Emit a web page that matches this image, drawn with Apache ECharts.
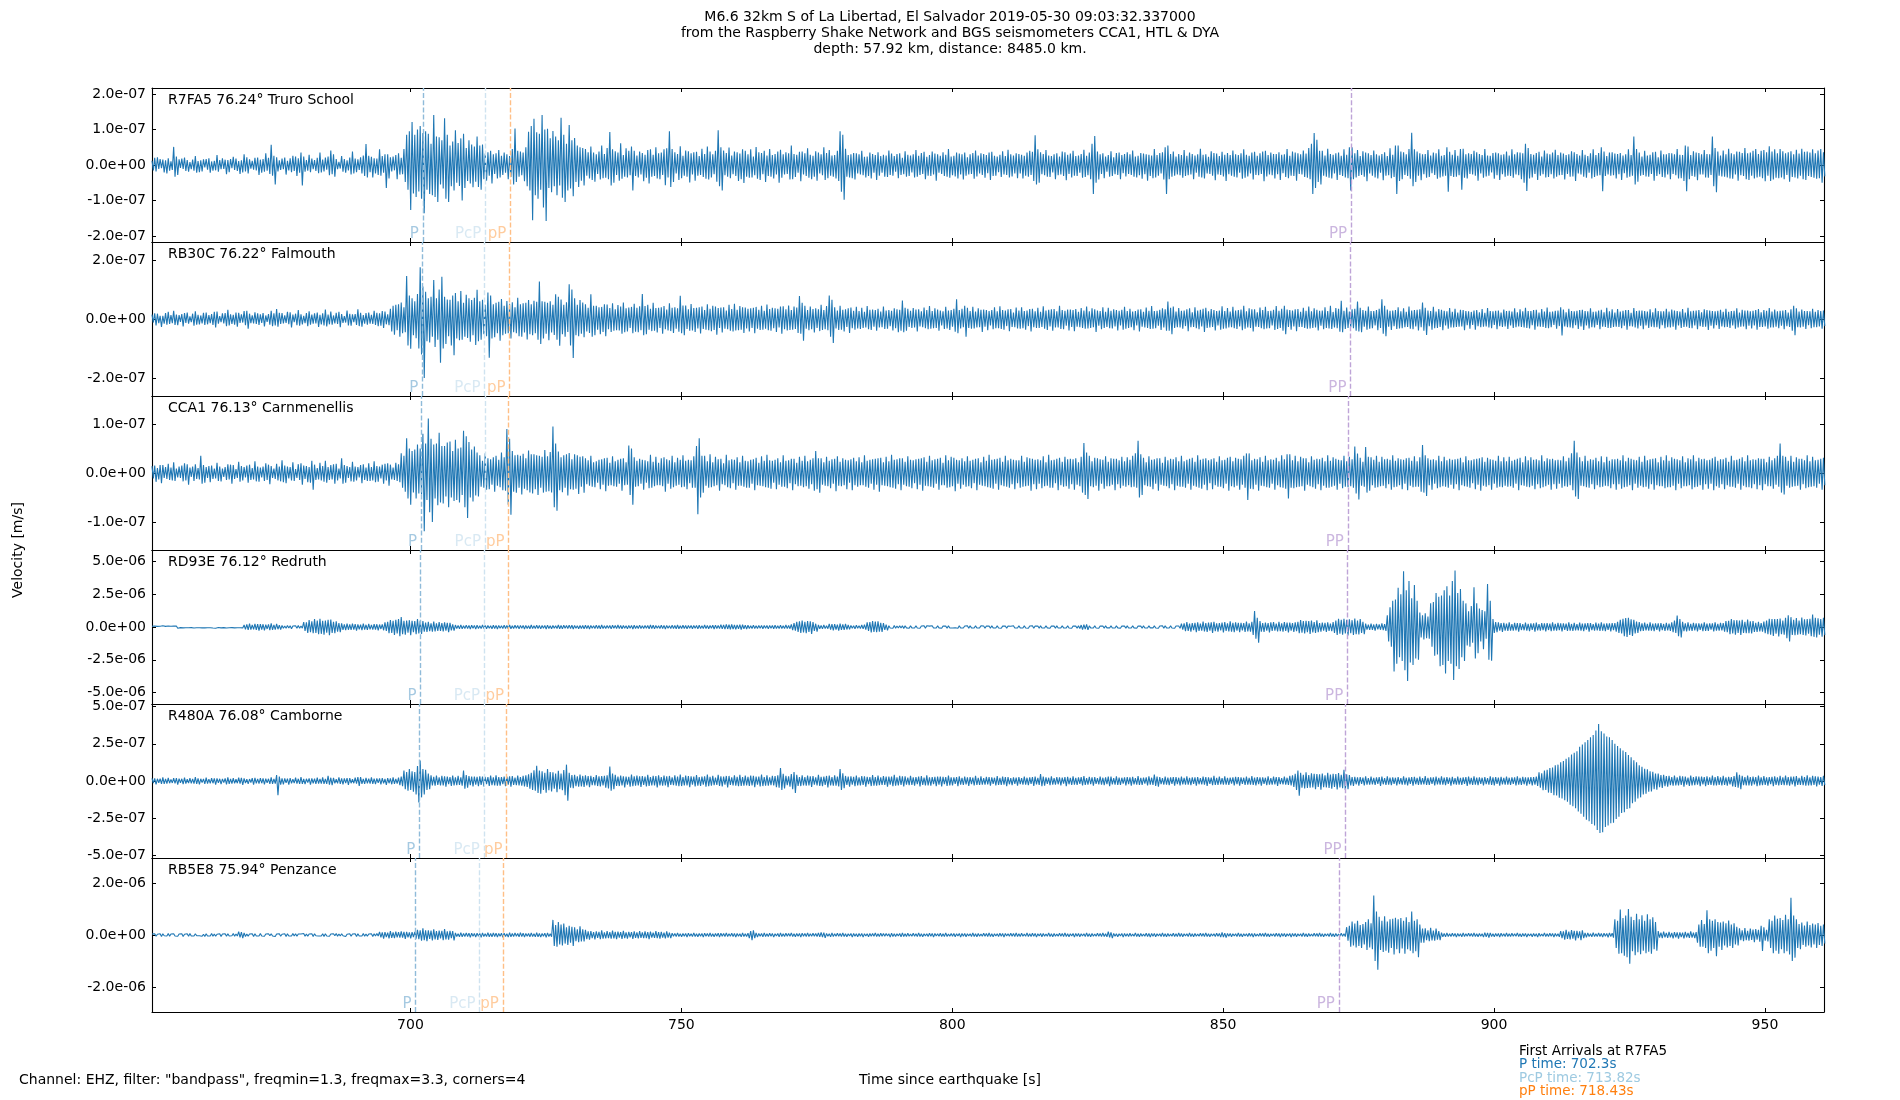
<!DOCTYPE html>
<html>
<head>
<meta charset="utf-8">
<title>M6.6 La Libertad - Raspberry Shake</title>
<script src="https://cdn.jsdelivr.net/npm/echarts@6/dist/echarts.min.js"></script>
<style>
html, body { margin: 0; padding: 0; background: #fff; }
#chart { width: 1900px; height: 1100px; }
</style>
</head>
<body>
<div id="chart"></div>
<script type="text/javascript">
// sampling of the traces (s since origin) and the shared time axis
var T0 = 652.3, DT = 0.25;
var X_MIN = 652.3, X_MAX = 960.9;
var xTicks = [700, 750, 800, 850, 900, 950];

var stations = [
    'R7FA5 76.24\u00b0 Truro School',
    'RB30C 76.22\u00b0 Falmouth',
    'CCA1 76.13\u00b0 Carnmenellis',
    'RD93E 76.12\u00b0 Redruth',
    'R480A 76.08\u00b0 Camborne',
    'RB5E8 75.94\u00b0 Penzance'
];
// the trace values below are stored in these units (m/s)
var units = [1e-9, 1e-9, 1e-9, 1e-8, 1e-9, 1e-8];
var yLimits = [2.17e-7, 2.61e-7, 1.571e-7, 5.87e-6, 5.18e-7, 2.96e-6];
var yTicks = [
    [-2e-7, -1e-7, 0, 1e-7, 2e-7],
    [-2e-7, 0, 2e-7],
    [-1e-7, 0, 1e-7],
    [-5e-6, -2.5e-6, 0, 2.5e-6, 5e-6],
    [-5e-7, -2.5e-7, 0, 2.5e-7, 5e-7],
    [-2e-6, 0, 2e-6]
];

var phaseNames = ['P', 'PcP', 'pP', 'PP'];
var phaseColors = ['#8fbbd9', '#cfe3f0', '#ffbf86', '#bea4d7'];
var arrivals = [
    [702.3, 713.82, 718.43, 873.6],
    [702.2, 713.7, 718.3, 873.5],
    [701.95, 713.75, 718.1, 873.0],
    [701.85, 713.6, 718.0, 872.9],
    [701.65, 713.55, 717.75, 872.6],
    [700.95, 712.75, 717.05, 871.35]
];

// one row = 10 s of trace
var wave1 = [
12,-15,20,-18,22,-11,17,-9,15,-21,13,-24,19,-16,10,-14,51,-33,24,-28,16,-8,18,-11,21,-17,14,-19,8,-12,15,-16,25,-22,11,-20,13,-18,16,-7,
17,-13,19,-22,10,-16,12,-15,28,-19,14,-12,19,-11,15,-26,14,-20,17,-9,23,-14,18,-17,11,-25,13,-21,30,-18,22,-24,16,-10,12,-13,20,-15,21,-28,
15,-22,17,-19,33,-16,20,-25,57,-30,26,-55,22,-18,13,-14,18,-12,21,-27,12,-15,19,-20,26,-17,24,-31,19,-22,35,-58,24,-19,14,-16,29,-20,18,-12,
14,-17,20,-23,35,-21,15,-18,21,-13,24,-29,41,-26,30,-33,17,-12,9,-10,25,-19,17,-22,13,-15,21,-27,38,-24,18,-20,16,-14,22,-24,27,-31,59,-35,
26,-20,23,-35,19,-24,18,-28,44,-30,25,-22,30,-65,30,-38,22,-18,24,-15,28,-40,33,-27,20,-26,45,-48,85,-70,95,-127,121,-80,85,-90,100,-75,110,-95,
90,-136,95,-70,88,-82,60,-85,141,-90,80,-104,78,-55,70,-66,132,-95,85,-104,55,-60,66,-72,98,-50,62,-59,75,-100,88,-65,48,-45,70,-52,58,-63,52,-47,
80,-62,55,-70,58,-40,32,-44,36,-30,40,-52,30,-25,33,-38,42,-35,26,-28,35,-22,30,-40,25,-34,45,-55,103,-48,40,-33,38,-29,35,-46,50,-60,94,-72,
110,-156,130,-85,92,-95,88,-70,141,-120,100,-158,102,-65,75,-77,96,-60,80,-85,70,-58,133,-92,85,-104,60,-72,113,-66,70,-88,76,-48,55,-62,50,-44,48,-58,
45,-30,36,-38,52,-42,35,-47,30,-25,38,-41,55,-37,31,-36,48,-40,93,-58,44,-50,39,-28,35,-44,61,-39,28,-33,47,-35,40,-29,52,-72,40,-31,27,-35,
38,-27,34,-46,29,-36,42,-52,44,-33,29,-31,50,-38,33,-40,35,-28,44,-57,47,-35,95,-62,45,-48,36,-24,31,-42,53,-37,26,-30,41,-33,39,-49,33,-27,
36,-44,37,-30,25,-28,46,-34,31,-39,52,-41,38,-35,30,-26,40,-47,98,-60,50,-72,41,-29,34,-33,49,-37,27,-26,38,-31,36,-45,32,-40,44,-51,40,-33,
30,-36,44,-35,24,-29,51,-39,36,-42,34,-26,40,-48,27,-31,45,-33,28,-38,31,-27,38,-50,43,-36,30,-27,36,-25,33,-41,55,-40,31,-34,29,-22,37,-46,
38,-27,33,-31,47,-36,29,-40,26,-33,39,-44,35,-24,30,-29,50,-42,34,-37,42,-30,27,-33,28,-38,40,-45,95,-75,85,-98,46,-33,28,-35,30,-37,34,-41,
33,-24,30,-27,40,-29,23,-35,24,-31,35,-38,31,-22,28,-42,36,-30,25,-22,29,-33,27,-34,41,-28,32,-30,25,-19,31,-37,33,-28,20,-26,39,-33,29,-31,
27,-21,30,-35,42,-33,26,-28,34,-25,37,-40,23,-30,28,-31,38,-27,32,-44,30,-22,26,-25,36,-31,29,-33,45,-36,24,-29,26,-32,35,-38,32,-27,30,-41,
35,-30,22,-27,30,-25,34,-39,41,-32,27,-24,33,-28,31,-36,28,-23,35,-42,37,-31,26,-30,24,-20,29,-34,39,-27,25,-28,43,-35,30,-32,27,-24,33,-37,
31,-24,29,-38,26,-30,35,-33,40,-28,37,-45,84,-55,44,-50,36,-26,31,-29,42,-33,27,-34,25,-21,30,-40,33,-29,24,-27,38,-31,36,-43,29,-25,32,-35,
40,-30,25,-31,27,-22,31,-36,43,-34,26,-29,35,-40,60,-82,82,-50,38,-41,30,-25,33,-37,24,-19,28,-33,39,-31,22,-26,34,-28,35,-40,28,-23,31,-32,
36,-25,30,-28,41,-33,24,-35,26,-29,34,-39,32,-26,30,-44,29,-31,27,-37,45,-35,28,-30,34,-24,36,-41,50,-82,55,-40,31,-33,38,-30,24,-27,31,-29,
28,-36,42,-31,26,-29,35,-27,31,-40,27,-22,30,-33,46,-35,29,-38,30,-24,23,-25,39,-30,34,-43,32,-27,25,-28,37,-32,29,-45,34,-26,28,-30,41,-33,
30,-35,28,-22,33,-39,44,-36,29,-32,26,-24,35,-41,37,-28,26,-29,33,-25,38,-46,40,-32,28,-27,35,-29,31,-38,31,-26,36,-42,29,-23,30,-34,45,-37,
26,-30,38,-31,35,-44,33,-25,30,-27,41,-34,32,-36,48,-40,60,-82,90,-65,71,-48,40,-55,40,-30,27,-33,46,-36,31,-38,29,-24,33,-42,35,-28,26,-31,
44,-35,29,-37,50,-72,50,-40,33,-35,42,-31,25,-28,39,-33,35,-46,33,-24,28,-30,41,-35,30,-38,27,-22,31,-43,36,-30,25,-29,47,-37,29,-34,55,-82,
55,-45,38,-40,36,-28,30,-31,45,-39,91,-60,44,-48,38,-30,33,-43,30,-26,31,-36,42,-34,27,-23,35,-28,33,-39,44,-35,26,-32,28,-30,50,-75,37,-31,
29,-34,42,-33,26,-29,45,-70,46,-36,30,-38,33,-25,31,-27,40,-30,36,-44,31,-24,28,-36,45,-32,27,-30,26,-21,34,-39,35,-29,33,-42,29,-26,30,-33,
38,-30,27,-31,44,-36,30,-27,36,-29,35,-40,33,-50,60,-73,48,-38,31,-35,29,-25,34,-42,37,-30,24,-26,41,-35,32,-34,30,-26,35,-38,43,-33,28,-29,
35,-28,32,-41,28,-25,30,-33,39,-32,36,-45,31,-24,27,-27,42,-33,29,-36,25,-22,33,-38,44,-34,28,-30,34,-29,50,-74,38,-31,25,-27,35,-30,36,-29,
32,-38,31,-26,34,-42,27,-23,30,-36,44,-33,28,-30,80,-55,45,-47,35,-30,24,-28,40,-32,27,-33,29,-25,36,-44,37,-31,22,-26,41,-34,30,-35,30,-27,
34,-40,33,-25,30,-29,45,-38,29,-37,28,-45,55,-74,52,-40,28,-31,39,-33,35,-43,34,-27,30,-27,42,-35,31,-36,30,-28,80,-60,48,-77,38,-30,27,-32,
41,-33,30,-35,46,-38,33,-39,30,-27,38,-44,37,-29,34,-31,48,-40,33,-42,35,-30,40,-38,45,-35,31,-33,40,-37,42,-46,36,-30,53,-45,38,-41,44,-36,
33,-37,45,-35,39,-40,33,-28,36,-47,39,-34,30,-35,43,-38,32,-30,46,-40,37,-42,38,-31,35,-34,44,-36,33,-39,41,-37,45,-50,36,-32
];

var wave2 = [
15,-12,19,-22,18,-14,11,-27,11,-16,20,-19,24,-17,13,-14,28,-20,15,-21,13,-10,17,-25,20,-13,22,-16,9,-11,18,-23,26,-19,14,-18,12,-15,21,-20,
22,-18,13,-14,17,-20,24,-29,25,-16,10,-11,19,-15,20,-24,31,-22,16,-17,14,-19,22,-26,21,-13,16,-12,27,-21,28,-33,18,-14,12,-15,23,-17,19,-20,
16,-13,20,-25,12,-10,17,-19,28,-24,19,-22,34,-26,21,-17,20,-15,12,-13,24,-18,23,-29,15,-11,18,-21,30,-23,16,-18,11,-14,20,-24,26,-19,15,-16,
19,-15,22,-27,14,-18,19,-22,32,-25,15,-18,25,-19,12,-15,21,-17,24,-28,17,-13,10,-12,29,-22,18,-23,16,-11,17,-20,33,-24,21,-26,13,-16,20,-19,
22,-16,14,-17,28,-20,21,-24,19,-23,27,-30,25,-18,16,-21,35,-42,45,-53,48,-38,50,-60,56,-48,40,-45,146,-90,80,-101,70,-55,60,-65,85,-100,175,-120,
110,-200,92,-75,70,-80,75,-60,132,-95,70,-70,100,-148,143,-100,75,-85,66,-58,65,-90,80,-123,88,-66,60,-72,95,-70,55,-60,82,-64,70,-77,64,-55,72,-88,
99,-75,60,-70,65,-52,48,-58,90,-131,80,-66,50,-62,55,-48,58,-74,68,-55,45,-50,61,-48,52,-66,57,-45,40,-48,72,-58,50,-60,53,-46,55,-69,64,-52,
50,-55,62,-48,58,-70,127,-85,60,-66,58,-50,55,-72,60,-46,48,-54,84,-70,75,-91,66,-52,48,-60,57,-44,118,-90,100,-132,70,-55,48,-58,64,-50,56,-62,
50,-42,38,-47,84,-60,45,-55,45,-36,40,-52,41,-44,50,-58,49,-35,37,-44,53,-40,33,-38,47,-39,42,-50,56,-45,36,-42,39,-30,41,-48,52,-43,38,-45,
43,-38,85,-55,44,-52,48,-36,35,-41,55,-40,37,-46,38,-30,40,-50,44,-35,32,-39,53,-41,38,-47,40,-33,36,-43,79,-48,46,-55,46,-34,33,-40,51,-39,
37,-44,38,-32,40,-49,42,-34,30,-36,50,-38,35,-41,45,-37,42,-53,37,-30,39,-46,40,-33,29,-35,48,-40,34,-42,52,-39,31,-38,44,-36,40,-47,39,-32,
35,-42,36,-30,38,-48,41,-33,31,-37,45,-36,28,-33,49,-38,34,-40,38,-31,36,-44,35,-29,42,-50,43,-35,33,-39,46,-37,30,-36,42,-34,39,-47,78,-50,
55,-74,45,-33,30,-38,42,-35,34,-46,36,-30,33,-41,48,-37,30,-35,44,-38,80,-60,65,-81,40,-32,29,-37,45,-36,31,-42,33,-27,36,-47,39,-31,28,-36,
41,-32,27,-34,38,-30,24,-29,44,-35,31,-37,32,-26,30,-40,35,-29,25,-28,42,-34,29,-33,30,-24,28,-39,36,-31,33,-45,31,-40,63,-45,38,-40,35,-27,
28,-30,37,-29,32,-42,33,-25,26,-28,39,-31,30,-35,44,-33,27,-31,36,-30,32,-40,29,-22,26,-34,41,-32,29,-37,30,-26,35,-43,67,-48,30,-32,35,-28,
45,-60,38,-30,27,-33,41,-32,25,-29,36,-28,31,-44,32,-26,30,-38,27,-22,30,-35,40,-31,26,-31,43,-34,30,-36,29,-24,33,-41,34,-27,22,-28,39,-32,
29,-33,40,-31,27,-36,29,-24,34,-42,35,-28,26,-30,38,-30,24,-27,43,-33,29,-37,31,-25,33,-40,34,-29,26,-29,45,-34,30,-35,28,-23,32,-39,32,-27,
30,-41,34,-26,24,-28,37,-30,29,-33,42,-32,26,-30,36,-28,33,-44,29,-23,27,-35,40,-30,24,-27,38,-31,28,-32,33,-25,30,-39,28,-22,31,-36,41,-33,
27,-30,35,-28,25,-38,27,-22,32,-42,33,-26,24,-29,39,-30,28,-34,44,-33,27,-31,28,-23,31,-37,36,-29,33,-40,59,-40,38,-52,42,-30,25,-28,37,-29,
28,-33,29,-24,33,-41,36,-28,23,-27,40,-31,29,-35,31,-25,35,-44,38,-30,26,-29,34,-27,30,-39,27,-22,29,-36,43,-33,27,-32,37,-29,25,-28,41,-31,
29,-34,30,-25,32,-38,45,-33,26,-29,36,-30,33,-42,33,-26,23,-27,39,-31,30,-35,41,-32,27,-31,28,-22,31,-37,44,-34,28,-30,35,-40,45,-52,32,-27,
30,-36,29,-25,33,-41,34,-27,24,-27,38,-30,28,-33,42,-32,26,-30,36,-29,31,-39,28,-23,29,-35,40,-30,27,-32,45,-34,24,-29,37,-31,35,-43,62,-45,
28,-34,39,-30,25,-28,33,-31,35,-40,59,-42,38,-45,30,-26,28,-36,42,-33,27,-31,27,-22,30,-38,35,-30,67,-50,45,-58,32,-26,28,-37,29,-24,30,-34,
40,-32,26,-31,36,-28,24,-27,42,-33,29,-35,30,-25,31,-39,33,-28,56,-40,38,-54,29,-24,27,-36,41,-31,25,-30,34,-27,31,-38,28,-22,26,-33,37,-29,
24,-29,35,-27,22,-26,31,-25,30,-38,27,-21,26,-33,24,-20,29,-36,30,-24,23,-28,34,-26,21,-25,37,-29,27,-31,26,-20,28,-35,29,-24,22,-27,32,-25,
27,-34,28,-22,25,-30,36,-28,23,-25,33,-27,26,-29,38,-30,27,-32,27,-21,30,-36,31,-25,22,-26,34,-27,25,-30,39,-31,24,-28,25,-20,28,-33,29,-24,
40,-56,32,-25,23,-28,35,-29,27,-31,26,-21,28,-34,30,-25,31,-37,27,-22,26,-32,36,-28,24,-29,25,-20,29,-35,31,-26,23,-27,38,-30,26,-30,33,-27,
22,-26,34,-27,25,-31,28,-23,30,-36,30,-24,21,-25,37,-29,27,-32,29,-23,29,-35,27,-22,25,-30,33,-26,23,-28,36,-28,27,-33,26,-21,26,-31,35,-28,
25,-29,32,-26,29,-36,27,-22,25,-30,34,-27,22,-26,38,-30,26,-31,28,-22,29,-35,30,-24,23,-27,33,-26,30,-37,29,-23,27,-32,26,-21,28,-34,31,-25,
24,-28,35,-27,24,-30,27,-22,28,-33,36,-29,22,-26,31,-25,29,-35,29,-23,26,-32,28,-22,30,-36,34,-27,23,-27,30,-25,28,-33,37,-29,25,-29,32,-26,
26,-31,28,-23,29,-35,30,-24,22,-27,33,-40,45,-55,36,-28,25,-29,32,-26,27,-34,27,-21,26,-31,35,-28,24,-28,30,-25,27,-33,29,-24
];

var wave3 = [
14,-11,15,-18,10,-13,16,-21,16,-10,12,-12,19,-14,11,-15,22,-16,9,-9,13,-10,15,-17,20,-15,18,-24,11,-8,13,-16,18,-12,10,-13,35,-22,16,-20,
12,-10,14,-19,15,-12,9,-11,21,-16,13,-17,9,-8,12,-14,18,-13,17,-22,16,-12,8,-10,23,-18,14,-15,12,-9,15,-20,17,-14,10,-13,24,-17,13,-18,
11,-9,13,-16,20,-14,17,-23,14,-10,9,-12,19,-15,13,-17,26,-19,15,-21,13,-11,12,-15,22,-16,8,-10,18,-14,20,-24,15,-12,14,-19,12,-20,25,-34,
17,-14,10,-13,21,-15,14,-18,25,-20,12,-14,16,-13,18,-22,19,-15,9,-11,30,-22,16,-20,14,-10,12,-17,23,-18,13,-15,12,-9,16,-21,18,-14,11,-16,
20,-16,12,-15,24,-19,14,-18,13,-11,17,-22,19,-15,20,-26,17,-13,11,-14,21,-16,18,-19,40,-30,35,-38,71,-52,50,-65,45,-40,48,-52,58,-42,50,-44,
80,-119,60,-55,111,-80,70,-100,58,-52,60,-66,82,-60,55,-62,55,-48,62,-70,64,-50,45,-57,68,-55,50,-60,52,-45,86,-70,75,-92,63,-50,48,-58,54,-46,
42,-48,36,-28,25,-30,40,-34,30,-33,28,-24,32,-38,35,-26,27,-29,42,-35,32,-36,90,-65,70,-85,45,-38,36,-40,37,-30,35,-44,39,-32,30,-35,46,-40,
38,-42,38,-33,36,-45,35,-30,33,-40,47,-38,34,-37,43,-40,95,-70,60,-77,44,-35,32,-39,36,-30,38,-46,41,-33,28,-34,38,-32,36,-43,33,-28,34,-40,
30,-23,26,-26,35,-28,22,-29,24,-20,27,-33,28,-24,30,-37,31,-26,21,-25,34,-27,24,-28,27,-22,29,-36,30,-25,22,-24,56,-45,50,-65,32,-28,25,-27,
29,-22,27,-34,26,-20,24,-31,37,-30,23,-27,33,-25,21,-25,30,-27,32,-38,28,-22,26,-32,35,-29,22,-26,31,-24,27,-29,36,-28,25,-33,27,-21,26,-30,
34,-30,55,-84,71,-50,35,-40,35,-26,24,-30,38,-29,22,-27,33,-25,28,-36,29,-23,20,-25,37,-29,26,-31,28,-21,27,-34,32,-26,22,-26,35,-28,25,-30,
24,-30,27,-22,28,-35,31,-25,21,-26,34,-27,25,-29,37,-30,26,-32,25,-20,27,-33,30,-24,22,-28,36,-28,25,-31,26,-21,29,-35,29,-23,21,-27,33,-26,
25,-29,35,-27,24,-32,27,-23,30,-36,45,-33,30,-40,30,-24,22,-26,33,-27,25,-31,28,-22,29,-37,34,-26,23,-27,30,-25,27,-33,26,-20,28,-35,31,-25,
24,-28,32,-25,22,-25,36,-28,25,-30,27,-22,28,-34,29,-24,30,-38,31,-25,22,-26,33,-27,24,-29,37,-30,27,-32,28,-23,30,-35,30,-24,23,-27,34,-28,
27,-31,26,-21,28,-33,29,-24,30,-36,32,-26,23,-27,35,-28,26,-30,28,-22,29,-34,31,-25,21,-25,36,-30,26,-29,33,-27,31,-37,27,-22,26,-32,30,-24,
24,-28,34,-27,25,-31,27,-21,29,-35,30,-24,22,-26,33,-27,25,-29,37,-30,27,-32,28,-22,29,-34,31,-25,23,-27,35,-28,26,-30,29,-23,27,-33,26,-21,
26,-30,35,-28,23,-27,32,-26,30,-36,29,-23,27,-33,28,-22,26,-31,34,-27,22,-26,37,-30,26,-30,27,-21,29,-35,31,-25,23,-28,33,-27,28,-32,29,-23,
28,-34,30,-24,22,-27,33,-40,61,-45,42,-53,35,-27,24,-29,31,-26,30,-36,28,-22,27,-32,34,-27,23,-27,30,-24,29,-35,29,-23,26,-31,33,-26,24,-28,
32,-25,27,-29,35,-28,40,-30,66,-50,38,-45,31,-25,22,-27,34,-28,27,-33,28,-22,30,-36,30,-24,21,-26,33,-27,26,-31,29,-23,28,-35,32,-26,24,-28,
35,-28,24,-30,27,-22,29,-34,31,-26,23,-28,36,-30,27,-32,29,-24,30,-35,26,-21,28,-33,30,-25,23,-28,34,-28,26,-31,27,-22,31,-36,33,-27,24,-29,
31,-26,29,-34,28,-24,35,-30,40,-55,40,-32,26,-33,29,-24,28,-36,32,-26,23,-27,35,-29,26,-30,28,-22,27,-34,31,-25,24,-29,36,-30,28,-32,38,-52,
38,-30,26,-31,35,-29,24,-28,33,-27,30,-36,30,-24,22,-27,34,-29,27,-32,29,-23,28,-35,31,-26,24,-30,36,-30,25,-28,32,-26,29,-34,27,-22,26,-31,
35,-28,24,-29,33,-27,28,-30,54,-42,40,-54,31,-26,23,-28,53,-40,33,-36,32,-25,27,-30,35,-29,23,-27,33,-26,28,-31,29,-23,27,-34,36,-29,25,-28,
30,-25,28,-33,27,-22,30,-35,31,-26,25,-29,34,-28,24,-28,32,-38,57,-40,36,-47,30,-25,27,-34,28,-22,26,-31,35,-29,24,-27,33,-28,26,-30,29,-24,
27,-32,28,-23,29,-35,31,-25,22,-27,34,-28,26,-30,26,-21,28,-33,29,-24,30,-36,32,-26,23,-28,31,-25,28,-34,27,-22,25,-30,35,-28,24,-29,32,-26,
24,-28,33,-27,25,-30,27,-22,29,-35,31,-25,22,-26,34,-28,26,-29,32,-26,27,-33,28,-23,26,-31,36,-29,24,-27,30,-24,28,-34,29,-23,26,-32,27,-22,
26,-30,34,-27,24,-28,31,-25,40,-35,66,-48,42,-53,32,-26,24,-27,35,-29,25,-30,28,-23,27,-33,31,-25,24,-29,34,-28,22,-26,33,-27,25,-31,28,-23,
28,-34,29,-23,26,-32,36,-29,24,-28,31,-25,29,-35,27,-22,26,-30,33,-26,23,-29,35,-28,26,-32,28,-23,29,-34,30,-25,22,-27,33,-27,26,-31,36,-29,
25,-29,32,-26,29,-35,28,-22,26,-31,34,-27,22,-27,30,-25,28,-33,36,-29,24,-28,31,-25,28,-34,29,-23,26,-32,27,-22,30,-35,33,-27,25,-30,28,-23,
28,-33,31,-25,23,-28,35,-28,26,-30,27,-22,29,-34,32,-26,24,-29,36,-29,26,-31,28,-23,27,-33,30,-25,29,-35,29,-23,22,-27,33,-27,26,-32,30,-24,
35,-28,60,-40,35,-44,33,-26,25,-30,35,-28,23,-27,32,-26,29,-34,29,-23,26,-31,36,-29,24,-28,33,-27,26,-30,27,-22,29,-34,31,-25
];

var wave4 = [
6,-5,7,-8,5,-4,6,-7,9,-6,5,-6,8,-7,6,-5,7,-6,8,-9,6,-5,7,-7,8,-6,5,-6,7,-5,5,-8,7,-6,5,-6,9,-7,6,-7,
8,-6,5,-6,7,-8,6,-9,5,-4,6,-7,6,-5,7,-8,7,-6,5,-5,9,-7,6,-6,8,-6,7,-7,15,-18,20,-22,25,-20,16,-18,24,-21,22,-27,
22,-19,21,-26,18,-15,20,-24,27,-22,16,-20,23,-17,14,-19,12,-10,8,-9,11,-8,10,-13,8,-7,9,-10,12,-9,8,-9,38,-30,35,-45,52,-40,44,-48,
60,-45,50,-55,63,-52,48,-58,50,-44,55,-62,57,-46,40,-48,44,-36,30,-40,28,-22,20,-24,26,-21,19,-22,25,-20,22,-27,20,-17,18,-23,26,-20,17,-21,
24,-18,16,-20,22,-19,21,-26,19,-15,20,-25,35,-30,40,-48,52,-45,48,-60,55,-50,60,-70,75,-55,48,-58,50,-44,52,-62,48,-40,45,-55,60,-50,47,-52,
45,-36,33,-38,40,-31,28,-35,42,-33,27,-30,38,-30,29,-33,36,-28,31,-40,32,-25,20,-28,15,-12,11,-13,16,-13,10,-12,14,-11,12,-15,13,-10,12,-16,
14,-11,10,-12,15,-12,11,-13,11,-9,10,-14,13,-11,12,-15,12,-10,9,-11,14,-12,11,-13,15,-13,10,-12,13,-10,11,-14,11,-9,12,-15,12,-11,10,-13,
15,-12,10,-12,13,-11,12,-14,11,-9,12,-15,14,-12,10,-13,12,-10,9,-11,15,-13,12,-14,13,-10,11,-12,14,-12,13,-15,11,-9,10,-13,12,-11,12,-14,
13,-11,12,-15,12,-9,10,-11,14,-12,11,-13,15,-12,10,-12,11,-9,12,-14,13,-10,11,-12,15,-12,12,-13,12,-10,9,-14,11,-9,12,-15,13,-11,10,-12,
14,-12,9,-11,12,-10,11,-13,15,-12,13,-14,11,-9,10,-12,13,-11,12,-15,12,-10,9,-11,14,-12,11,-13,15,-13,10,-12,13,-11,12,-14,11,-9,12,-13,
12,-10,11,-14,13,-11,9,-11,15,-12,11,-13,12,-10,13,-15,14,-12,11,-12,18,-14,16,-16,20,-15,17,-17,19,-16,15,-18,16,-14,18,-20,17,-13,14,-15,
13,-11,10,-12,14,-12,9,-11,12,-10,11,-13,11,-9,12,-14,12,-10,11,-13,14,-12,9,-11,13,-11,10,-12,15,-12,11,-13,20,-24,30,-28,40,-38,44,-46,
50,-42,40,-48,45,-38,44,-52,38,-30,25,-35,16,-13,12,-14,15,-12,10,-13,24,-20,22,-26,22,-19,18,-27,25,-22,20,-21,23,-19,16,-18,12,-10,9,-14,
13,-10,9,-11,15,-14,18,-20,35,-30,38,-42,45,-37,42,-40,44,-35,32,-38,30,-22,18,-25,10,-8,7,-9,11,-9,8,-8,10,-8,9,-11,9,-7,8,-10,
9,-7,8,-8,10,-8,7,-9,8,-7,9,-10,9,-6,7,-7,10,-8,7,-8,9,-7,8,-10,8,-6,7,-9,10,-8,6,-8,7,-6,8,-9,10,-8,7,-8,
8,-7,9,-10,9,-7,6,-8,10,-8,7,-7,9,-6,8,-9,8,-6,7,-10,9,-7,8,-8,10,-8,6,-9,7,-6,8,-10,8,-7,6,-9,10,-8,7,-8,
9,-7,8,-8,10,-8,7,-9,8,-6,9,-10,7,-6,8,-9,10,-8,7,-8,9,-7,8,-10,8,-6,7,-9,10,-8,6,-7,9,-7,8,-8,10,-8,7,-9,
8,-6,7,-9,10,-12,15,-20,18,-16,20,-22,9,-7,6,-8,10,-8,7,-9,8,-6,7,-10,9,-7,6,-7,10,-8,7,-8,9,-7,8,-10,8,-6,7,-9,
10,-8,7,-8,9,-7,8,-10,8,-6,7,-9,10,-8,6,-8,9,-7,8,-7,10,-8,7,-9,8,-6,9,-10,9,-7,6,-8,10,-8,7,-9,8,-6,8,-10,
25,-20,28,-32,38,-30,26,-35,30,-24,32,-40,36,-29,25,-28,42,-33,30,-38,33,-27,35,-45,40,-32,28,-36,30,-25,33,-42,38,-30,27,-34,44,-35,32,-39,
35,-28,31,-40,32,-26,30,-38,42,-33,28,-36,40,-60,121,-90,70,-119,45,-36,30,-38,34,-27,29,-42,36,-30,38,-28,25,-33,40,-32,28,-35,37,-29,33,-41,
34,-27,30,-38,36,-32,40,-48,52,-44,46,-50,47,-40,45,-53,49,-42,38,-46,51,-40,30,-36,33,-28,31,-38,35,-30,26,-32,37,-45,50,-60,63,-52,55,-58,
62,-50,55,-65,58,-48,52,-60,64,-55,50,-57,60,-45,40,-55,26,-20,18,-22,25,-21,19,-28,24,-18,20,-21,27,-24,22,-30,90,-110,150,-150,200,-340,210,-280,
300,-230,250,-260,424,-330,280,-412,350,-270,220,-290,320,-240,200,-250,110,-80,90,-95,105,-85,80,-90,180,-150,190,-220,260,-210,230,-300,240,-290,280,-354,310,-260,240,-280,
350,-404,430,-300,260,-320,290,-230,200,-260,180,-140,120,-150,160,-120,303,-240,180,-200,140,-110,130,-170,120,-90,328,-250,200,-258,60,-45,38,-40,35,-28,30,-38,32,-27,
26,-30,35,-27,22,-28,32,-26,30,-36,30,-23,21,-25,34,-28,24,-31,28,-22,27,-35,33,-26,22,-27,30,-24,28,-34,29,-23,25,-32,36,-28,23,-28,31,-24,
28,-33,27,-22,26,-30,35,-27,23,-29,32,-25,22,-26,34,-27,26,-31,28,-21,29,-36,30,-24,22,-27,33,-26,25,-29,35,-28,26,-32,28,-22,27,-34,30,-24,
30,-35,40,-45,55,-50,62,-70,68,-75,70,-60,58,-68,55,-50,42,-45,38,-32,28,-30,33,-26,24,-28,35,-28,26,-31,27,-22,28,-34,30,-24,23,-29,32,-26,
26,-30,35,-40,50,-45,88,-70,60,-80,40,-32,28,-33,36,-28,24,-29,31,-25,27,-34,28,-22,26,-32,36,-29,25,-30,27,-21,28,-33,35,-28,23,-28,31,-25,
30,-35,45,-40,48,-55,60,-50,52,-58,52,-45,50,-60,55,-46,40,-48,57,-48,44,-50,45,-38,32,-38,40,-34,30,-35,42,-48,50,-55,62,-58,60,-68,60,-52,
60,-72,65,-55,50,-58,70,-85,90,-110,75,-60,55,-62,68,-58,50,-55,72,-60,58,-65,60,-52,62,-70,95,-75,70,-80,66,-58,60,-74,70,-62
];

var wave5 = [
18,-14,17,-22,15,-12,16,-20,24,-19,14,-17,21,-15,11,-13,19,-16,20,-25,16,-13,15,-21,23,-18,12,-14,20,-16,14,-18,26,-20,17,-22,15,-11,14,-19,
22,-17,13,-16,19,-15,18,-24,17,-13,15,-21,14,-11,17,-23,25,-19,14,-18,20,-16,12,-15,22,-18,21,-27,18,-14,12,-20,13,-10,19,-24,21,-16,14,-17,
19,-15,18,-23,16,-13,15,-20,24,-19,14,-18,40,-95,30,-25,17,-22,17,-13,16,-25,20,-16,12,-14,23,-18,15,-19,26,-20,14,-21,15,-11,17,-24,18,-15,
16,-20,22,-17,14,-17,25,-20,15,-19,35,-24,22,-28,21,-16,12,-16,24,-19,17,-22,18,-14,20,-26,20,-15,12,-15,23,-18,27,-33,27,-20,14,-19,21,-16,
15,-18,24,-19,16,-21,17,-13,18,-23,20,-16,14,-26,19,-15,17,-22,25,-20,14,-18,23,-28,30,-35,70,-55,60,-65,80,-60,65,-72,60,-90,100,-145,138,-110,
80,-90,75,-60,50,-55,38,-30,28,-32,36,-27,24,-30,34,-29,31,-38,29,-22,26,-33,37,-30,25,-28,35,-27,24,-31,70,-52,40,-45,33,-28,30,-36,30,-25,
28,-34,31,-26,30,-37,28,-22,27,-33,36,-28,25,-29,38,-31,27,-32,27,-21,29,-35,30,-25,32,-38,33,-26,23,-28,36,-30,27,-31,34,-36,38,-40,45,-52,
55,-60,72,-65,103,-80,70,-85,65,-60,55,-78,80,-62,60,-70,58,-52,50,-75,68,-55,50,-62,74,-95,110,-133,55,-45,40,-48,42,-35,32,-38,44,-36,34,-40,
38,-30,33,-42,35,-28,26,-30,40,-34,31,-36,33,-29,35,-45,39,-50,97,-65,50,-55,41,-33,30,-34,37,-29,32,-43,30,-24,28,-38,44,-35,32,-32,36,-29,
32,-40,33,-27,30,-37,42,-33,26,-29,35,-30,33,-44,38,-30,27,-31,36,-29,31,-41,34,-26,24,-28,39,-32,30,-35,43,-34,27,-30,37,-30,33,-42,31,-25,
30,-36,40,-32,27,-33,29,-24,31,-38,44,-35,28,-32,35,-28,23,-27,41,-33,31,-37,30,-25,34,-43,34,-27,24,-29,38,-31,28,-35,42,-33,26,-31,36,-29,
28,-33,37,-30,35,-41,30,-25,29,-36,44,-34,27,-32,39,-31,24,-28,35,-29,33,-42,38,-45,87,-60,48,-50,35,-28,31,-38,46,-55,60,-80,42,-33,27,-34,
38,-30,27,-31,36,-29,32,-40,33,-25,24,-29,41,-33,28,-35,30,-26,34,-43,37,-29,26,-32,39,-31,30,-36,80,-60,52,-48,34,-27,30,-38,31,-25,28,-35,
37,-29,25,-30,33,-27,31,-39,28,-22,27,-34,40,-32,26,-31,36,-28,24,-27,33,-26,30,-38,30,-24,29,-35,41,-32,25,-29,34,-27,31,-37,32,-25,23,-28,
35,-27,24,-31,27,-22,29,-36,33,-26,23,-29,38,-30,25,-32,26,-21,28,-34,30,-25,29,-37,28,-22,26,-33,36,-29,24,-30,25,-20,27,-35,31,-25,22,-27,
29,-23,25,-33,26,-21,23,-30,34,-27,22,-27,31,-25,20,-24,28,-23,26,-32,25,-20,22,-29,33,-27,21,-26,30,-24,27,-35,27,-22,20,-28,24,-19,23,-31,
27,-21,20,-24,30,-24,22,-28,25,-20,27,-33,29,-23,21,-26,46,-35,30,-31,24,-19,22,-28,32,-25,20,-25,27,-22,24,-30,23,-18,26,-34,28,-22,21,-26,
31,-24,21,-27,24,-19,26,-29,33,-26,20,-25,28,-22,25,-32,26,-20,19,-23,30,-24,22,-28,25,-21,29,-35,29,-23,20,-24,32,-26,23,-27,22,-18,24,-30,
26,-21,24,-31,28,-23,20,-24,33,-26,22,-27,23,-18,25,-29,31,-24,22,-26,44,-33,30,-38,27,-21,20,-25,30,-24,23,-28,24,-19,26,-32,26,-21,22,-29,
29,-23,21,-25,32,-25,22,-28,24,-19,25,-31,27,-22,20,-23,30,-24,26,-33,25,-20,23,-28,34,-27,21,-26,29,-23,20,-24,31,-25,22,-27,23,-18,24,-30,
28,-22,26,-32,25,-20,22,-27,30,-24,21,-24,33,-26,23,-29,26,-21,25,-31,24,-19,22,-28,32,-25,20,-25,29,-23,27,-33,27,-21,19,-23,30,-24,22,-26,
35,-30,38,-40,48,-60,70,-99,55,-45,42,-50,58,-46,40,-45,52,-44,48,-56,47,-40,45,-58,50,-42,38,-44,55,-47,43,-52,48,-40,46,-57,53,-44,42,-49,
76,-60,45,-55,40,-30,27,-33,28,-22,24,-31,26,-20,23,-29,32,-25,20,-24,30,-23,21,-27,25,-20,26,-33,29,-22,19,-26,31,-24,23,-28,24,-19,22,-30,
27,-21,20,-25,31,-24,22,-29,24,-19,26,-32,28,-22,21,-26,30,-24,20,-23,33,-26,22,-27,25,-20,24,-30,29,-23,21,-24,32,-25,23,-28,26,-20,22,-31,
28,-22,20,-24,30,-24,21,-27,25,-19,26,-33,29,-23,21,-26,31,-25,23,-28,24,-19,22,-30,27,-21,20,-25,32,-26,24,-29,26,-20,23,-31,28,-23,21,-24,
30,-24,22,-27,25,-20,24,-29,32,-25,21,-26,28,-22,24,-31,25,-21,26,-30,27,-24,30,-33,58,-45,52,-62,70,-60,75,-78,88,-80,90,-95,105,-98,110,-112,
126,-118,135,-130,150,-140,160,-160,178,-170,190,-184,200,-205,230,-220,245,-240,260,-260,276,-270,295,-290,310,-300,340,-330,384,-350,335,-345,320,-310,300,-300,295,-285,275,-280,
250,-255,235,-240,220,-215,205,-210,195,-188,175,-184,160,-150,140,-140,126,-118,105,-110,95,-90,82,-85,78,-72,65,-70,62,-55,50,-58,50,-42,40,-46,42,-35,33,-38,
35,-28,26,-32,37,-29,25,-29,34,-27,31,-38,30,-24,23,-33,36,-29,27,-28,31,-25,29,-35,29,-23,26,-34,32,-26,24,-27,36,-30,27,-30,33,-26,24,-29,
34,-27,25,-31,28,-23,27,-36,33,-40,58,-45,42,-55,35,-28,26,-30,37,-29,27,-32,29,-23,26,-34,36,-29,25,-28,33,-26,24,-31,27,-22,28,-35,32,-26,
25,-30,34,-27,24,-28,36,-28,27,-32,29,-23,30,-37,33,-26,22,-26,35,-28,27,-31,38,-30,25,-29,34,-27,31,-36,30,-24,26,-33,35,-28
];

var wave6 = [
4,-3,5,-5,3,-4,5,-6,5,-3,4,-4,6,-5,4,-3,5,-4,3,-5,4,-3,5,-6,3,-4,5,-5,6,-4,3,-4,5,-3,4,-3,4,-5,3,-6,
5,-4,3,-4,6,-5,4,-5,3,-3,5,-6,4,-3,5,-5,5,-4,3,-3,6,-5,4,-4,13,-9,11,-12,8,-6,4,-5,4,-3,5,-6,5,-4,3,-4,
6,-4,3,-5,4,-3,5,-3,5,-4,3,-6,4,-3,5,-5,3,-4,5,-6,5,-4,3,-4,6,-4,5,-5,4,-3,4,-3,6,-5,4,-5,4,-3,5,-6,
5,-3,4,-4,3,-4,5,-6,5,-4,3,-5,4,-3,5,-3,6,-5,4,-4,5,-3,4,-6,3,-4,5,-5,4,-3,5,-6,5,-4,3,-4,6,-5,4,-5,
4,-3,5,-6,5,-4,6,-4,12,-9,10,-14,11,-8,9,-13,15,-11,10,-12,13,-9,11,-10,14,-10,12,-15,12,-9,10,-13,11,-8,12,-14,20,-16,18,-22,
26,-20,18,-24,18,-15,17,-21,22,-17,15,-19,17,-13,16,-20,23,-17,14,-18,16,-12,15,-21,8,-6,5,-7,9,-7,6,-6,8,-6,7,-9,7,-5,6,-8,
7,-5,6,-9,8,-6,5,-6,9,-7,6,-7,8,-6,7,-8,6,-5,7,-9,7,-6,5,-8,9,-7,6,-6,8,-5,6,-7,9,-6,7,-8,6,-5,6,-7,
8,-6,5,-7,9,-7,6,-8,6,-5,7,-9,8,-6,5,-7,58,-42,38,-45,50,-36,40,-40,44,-33,30,-38,35,-30,32,-42,30,-24,22,-28,33,-25,22,-25,
20,-16,14,-18,15,-12,11,-17,14,-11,12,-16,18,-14,10,-13,15,-12,11,-14,17,-13,12,-16,13,-10,11,-15,16,-12,10,-14,12,-9,11,-15,14,-11,10,-13,
15,-11,10,-12,14,-12,11,-16,13,-10,9,-11,15,-12,11,-14,12,-10,9,-13,14,-10,9,-12,7,-5,6,-6,8,-6,5,-7,6,-5,6,-8,7,-5,5,-6,
8,-6,5,-7,6,-5,6,-8,7,-5,6,-6,8,-6,5,-7,6,-5,7,-8,7,-5,6,-6,8,-6,5,-5,7,-6,6,-8,6,-5,5,-7,8,-6,5,-6,
7,-12,15,-20,18,-12,8,-8,6,-5,6,-7,8,-6,5,-6,7,-5,6,-8,5,-4,6,-7,8,-6,5,-6,7,-5,6,-5,8,-6,5,-7,6,-5,6,-8,
7,-5,6,-6,8,-6,5,-5,7,-5,6,-6,8,-7,10,-8,9,-11,6,-5,5,-7,8,-6,5,-5,7,-5,6,-6,8,-6,5,-7,5,-4,6,-8,6,-5,
5,-7,6,-5,6,-8,5,-4,5,-7,6,-5,6,-5,8,-6,5,-6,7,-5,6,-5,6,-4,5,-8,7,-6,5,-6,5,-4,6,-7,8,-6,5,-6,7,-5,
4,-5,7,-5,5,-6,8,-6,5,-7,5,-4,5,-6,7,-5,6,-8,6,-4,5,-5,7,-6,5,-6,8,-6,4,-5,6,-5,6,-7,5,-4,6,-8,6,-5,
6,-7,5,-4,5,-6,8,-6,5,-7,6,-5,4,-5,7,-5,6,-6,8,-6,5,-7,5,-4,5,-6,7,-5,6,-8,6,-4,5,-5,7,-5,6,-6,8,-6,
5,-6,7,-5,4,-5,8,-6,5,-6,7,-5,6,-8,5,-4,6,-7,6,-5,4,-5,8,-6,5,-7,6,-5,4,-5,7,-5,6,-6,8,-6,5,-7,5,-4,
6,-8,6,-5,6,-7,5,-4,5,-6,8,-6,5,-7,6,-5,4,-5,7,-5,6,-6,8,-6,5,-7,13,-9,10,-12,6,-5,5,-7,5,-4,6,-8,6,-5,
5,-6,7,-5,4,-5,8,-6,5,-7,6,-5,4,-5,7,-6,6,-8,6,-5,6,-7,5,-4,5,-6,8,-6,5,-7,6,-5,4,-5,7,-6,5,-6,8,-6,
6,-7,5,-4,5,-6,8,-6,5,-7,6,-5,4,-5,7,-5,6,-6,8,-6,5,-7,5,-4,5,-6,7,-5,6,-8,10,-8,7,-10,6,-5,6,-7,5,-4,
5,-6,8,-6,5,-7,5,-4,5,-6,7,-5,6,-8,6,-5,4,-5,7,-5,6,-6,8,-6,5,-7,5,-4,5,-6,7,-5,6,-8,6,-5,6,-7,5,-4,
6,-8,6,-5,6,-7,5,-4,5,-6,8,-6,5,-7,6,-5,4,-5,7,-5,6,-6,8,-6,5,-7,5,-4,5,-6,8,-6,5,-7,6,-5,4,-5,7,-5,
5,-6,30,-22,35,-45,52,-40,44,-48,55,-42,38,-50,42,-36,50,-58,60,-48,45,-55,152,-100,90,-134,70,-58,55,-65,72,-60,52,-68,60,-50,62,-75,66,-55,
60,-70,65,-52,55,-72,68,-55,50,-60,90,-70,55,-62,60,-85,40,-30,25,-30,26,-20,18,-24,28,-21,17,-22,25,-18,15,-20,9,-7,6,-7,8,-6,5,-6,
7,-5,6,-8,6,-5,5,-7,8,-6,5,-5,7,-5,6,-6,8,-6,5,-7,6,-5,5,-8,9,-7,8,-10,8,-6,5,-7,6,-5,6,-8,7,-5,5,-6,
8,-6,5,-6,7,-5,5,-5,8,-6,5,-7,6,-5,6,-8,5,-4,5,-7,6,-5,5,-8,7,-5,4,-5,8,-6,5,-6,7,-5,6,-8,6,-5,5,-7,
15,-12,14,-18,20,-15,13,-17,19,-14,16,-21,16,-12,14,-20,18,-12,8,-9,8,-6,5,-7,9,-6,5,-6,8,-6,6,-8,7,-5,6,-9,8,-6,7,-10,
60,-50,55,-72,98,-70,65,-80,75,-85,100,-110,70,-62,58,-78,82,-66,60,-74,76,-60,55,-70,80,-64,60,-72,68,-55,50,-60,15,-10,9,-12,13,-9,8,-11,
12,-9,8,-13,11,-9,10,-14,10,-8,9,-13,12,-9,8,-11,14,-10,9,-12,11,-30,40,-45,58,-45,42,-50,95,-70,60,-60,55,-50,60,-82,50,-45,48,-58,
52,-40,45,-48,56,-42,40,-50,45,-36,32,-40,26,-20,18,-24,27,-20,16,-22,25,-19,21,-28,23,-18,20,-26,35,-61,30,-22,20,-25,60,-50,55,-70,75,-60,
62,-72,65,-55,58,-70,78,-62,60,-75,143,-100,75,-87,60,-50,42,-55,48,-38,36,-45,52,-40,38,-48,44,-36,40,-50,46,-38,35,-42,40,-33
];

var waves = [wave1, wave2, wave3, wave4, wave5, wave6];

var FONT = '"DejaVu Sans", "Liberation Sans", sans-serif';
var GRID_LEFT = 152, GRID_RIGHT = 76, GRID_TOP = 88, PANEL_H = 154;

// matplotlib style "2.0e-07"
function sci(v) {
    if (Math.abs(v) < 1e-20) return '0.0e+00';
    var e = Math.floor(Math.log10(Math.abs(v)) + 1e-9);
    var m = v / Math.pow(10, e);
    return m.toFixed(1) + 'e' + (e < 0 ? '-' : '+') + String(Math.abs(e)).padStart(2, '0');
}

var grids = [], xAxes = [], yAxes = [], series = [];

for (var i = 0; i < 6; i++) {
    var lim = yLimits[i];
    grids.push({
        left: GRID_LEFT, right: GRID_RIGHT,
        top: GRID_TOP + i * PANEL_H, height: PANEL_H,
        containLabel: false
    });
    // bottom + top x axes (ticks inward on both)
    xAxes.push({
        type: 'value', gridIndex: i, position: 'bottom', min: X_MIN, max: X_MAX,
        axisLine: { show: true, onZero: false, lineStyle: { color: '#000', width: 1.1 } },
        axisTick: { show: true, inside: true, length: 4, customValues: xTicks, lineStyle: { color: '#000' } },
        axisLabel: { show: i === 5, customValues: xTicks, margin: 6, color: '#000', fontSize: 14, fontFamily: FONT },
        splitLine: { show: false }
    });
    xAxes.push({
        type: 'value', gridIndex: i, position: 'top', min: X_MIN, max: X_MAX,
        axisLine: { show: true, onZero: false, lineStyle: { color: '#000', width: 1.1 } },
        axisTick: { show: true, inside: true, length: 4, customValues: xTicks, lineStyle: { color: '#000' } },
        axisLabel: { show: false },
        splitLine: { show: false }
    });
    yAxes.push({
        type: 'value', gridIndex: i, position: 'left', min: -lim, max: lim,
        axisLine: { show: true, onZero: false, lineStyle: { color: '#000', width: 1.1 } },
        axisTick: { show: true, inside: true, length: 4, customValues: yTicks[i], lineStyle: { color: '#000' } },
        axisLabel: {
            show: true, customValues: yTicks[i], margin: 6, color: '#000',
            fontSize: 14, fontFamily: FONT, formatter: sci
        },
        splitLine: { show: false }
    });
    yAxes.push({
        type: 'value', gridIndex: i, position: 'right', min: -lim, max: lim,
        axisLine: { show: true, onZero: false, lineStyle: { color: '#000', width: 1.1 } },
        axisTick: { show: true, inside: true, length: 4, customValues: yTicks[i], lineStyle: { color: '#000' } },
        axisLabel: { show: false },
        splitLine: { show: false }
    });

    var unit = units[i];
    var pts = waves[i].map(function (v, k) {
        return [T0 + k * DT, v * unit];
    });

    series.push({
        type: 'line',
        xAxisIndex: i * 2, yAxisIndex: i * 2,
        data: pts,
        showSymbol: false,
        symbol: 'none',
        sampling: null,
        clip: true,
        lineStyle: { color: '#1f77b4', width: 1.1 },
        z: 2,
        markLine: {
            silent: true,
            symbol: ['none', 'none'],
            label: { show: false },
            animation: false,
            data: arrivals[i].map(function (t, k) {
                return { xAxis: t, lineStyle: { color: phaseColors[k], type: [5, 2.2], width: 1.4 } };
            })
        }
    });

    // phase names sitting on the bottom edge, just left of each line
    series.push({
        type: 'scatter',
        xAxisIndex: i * 2, yAxisIndex: i * 2,
        symbolSize: 0,
        clip: false,
        silent: true,
        z: 4,
        data: arrivals[i].map(function (t, k) {
            return {
                name: phaseNames[k],
                value: [t, -lim],
                label: { color: phaseColors[k] }
            };
        }),
        label: {
            show: true,
            formatter: '{b}',
            position: [-4, 0],
            align: 'right',
            verticalAlign: 'bottom',
            fontSize: 15,
            fontFamily: FONT
        }
    });
}

var graphics = [];
var titleLines = [
    'M6.6 32km S of La Libertad, El Salvador 2019-05-30 09:03:32.337000',
    'from the Raspberry Shake Network and BGS seismometers CCA1, HTL & DYA',
    'depth: 57.92 km, distance: 8485.0 km.'
];
titleLines.forEach(function (s, k) {
    graphics.push({
        type: 'text', x: 950, y: 17 + k * 16,
        style: { text: s, fill: '#000', font: '14px ' + FONT, textAlign: 'center', textVerticalAlign: 'middle' }
    });
});
stations.forEach(function (s, k) {
    graphics.push({
        type: 'text', x: 168, y: GRID_TOP + k * PANEL_H + 12,
        style: { text: s, fill: '#000', font: '14px ' + FONT, textAlign: 'left', textVerticalAlign: 'middle' },
        z: 10
    });
});
graphics.push({
    type: 'text', x: 18, y: 550, rotation: Math.PI / 2,
    style: { text: 'Velocity [m/s]', fill: '#000', font: '14px ' + FONT, textAlign: 'center', textVerticalAlign: 'middle' }
});
graphics.push({
    type: 'text', x: 19, y: 1080,
    style: { text: 'Channel: EHZ, filter: "bandpass", freqmin=1.3, freqmax=3.3, corners=4', fill: '#000', font: '14px ' + FONT, textAlign: 'left', textVerticalAlign: 'middle' }
});
graphics.push({
    type: 'text', x: 950, y: 1080,
    style: { text: 'Time since earthquake [s]', fill: '#000', font: '14px ' + FONT, textAlign: 'center', textVerticalAlign: 'middle' }
});
var legendLines = [
    ['First Arrivals at R7FA5', '#000'],
    ['P time: 702.3s', '#1f77b4'],
    ['PcP time: 713.82s', '#9ecae1'],
    ['pP time: 718.43s', '#ff7f0e']
];
legendLines.forEach(function (l, k) {
    graphics.push({
        type: 'text', x: 1519, y: 1051 + k * 13.6,
        style: { text: l[0], fill: l[1], font: '13.5px ' + FONT, textAlign: 'left', textVerticalAlign: 'middle' }
    });
});

var option = {
    backgroundColor: '#fff',
    animation: false,
    grid: grids,
    xAxis: xAxes,
    yAxis: yAxes,
    series: series,
    graphic: graphics
};

var myChart = echarts.init(document.getElementById('chart'));
myChart.setOption(option);
</script>
</body>
</html>
